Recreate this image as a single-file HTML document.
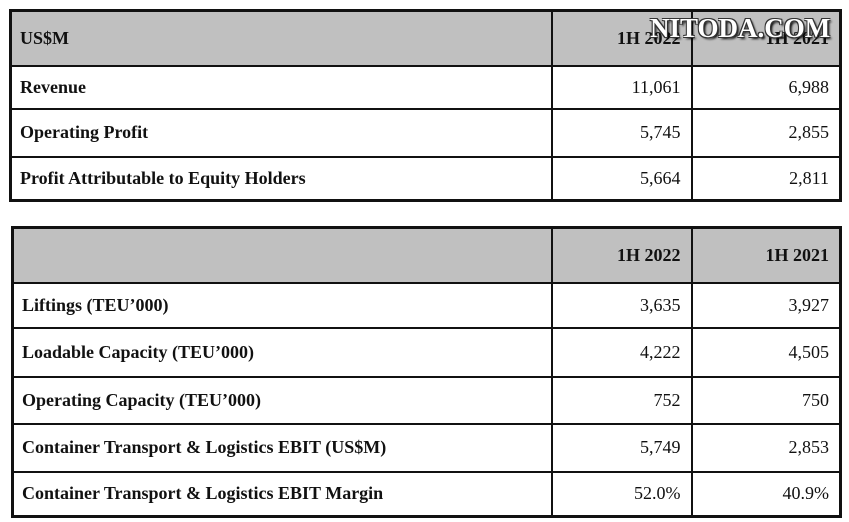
<!DOCTYPE html>
<html><head><meta charset="utf-8"><style>
body{margin:0;width:849px;height:522px;background:#fff;position:relative;overflow:hidden;font-family:"Liberation Serif",serif;}
table{position:absolute;border-collapse:collapse;border:3px solid #111;table-layout:fixed;}
td{border:2px solid #111;font-size:18px;color:#111;padding:0 10px 0 8px;}
td.l{font-weight:bold;}
td.n{text-align:right;}
tr.h td{background:#c0c0c0;font-weight:bold;}
#wm{position:absolute;left:650px;top:13px;font:bold 27px "Liberation Serif",serif;color:#fff;text-shadow:1px 1px 0 #333,-1px -1px 0 #333,1px -1px 0 #333,-1px 1px 0 #333,2px 2px 2px #000;}
</style></head><body>
<table style="left:9px;top:9px;width:830px;">
<colgroup><col style="width:541px"><col style="width:140px"><col style="width:149px"></colgroup>
<tr class="h" style="height:55px"><td class="l">US$M</td><td class="n">1H 2022</td><td class="n">1H 2021</td></tr>
<tr style="height:43px"><td class="l">Revenue</td><td class="n">11,061</td><td class="n">6,988</td></tr>
<tr style="height:48px"><td class="l">Operating Profit</td><td class="n">5,745</td><td class="n">2,855</td></tr>
<tr style="height:44px"><td class="l">Profit Attributable to Equity Holders</td><td class="n">5,664</td><td class="n">2,811</td></tr>
</table>
<table style="left:11px;top:226px;width:828px;">
<colgroup><col style="width:539px"><col style="width:140px"><col style="width:149px"></colgroup>
<tr class="h" style="height:55px"><td></td><td class="n">1H 2022</td><td class="n">1H 2021</td></tr>
<tr style="height:45px"><td class="l">Liftings (TEU’000)</td><td class="n">3,635</td><td class="n">3,927</td></tr>
<tr style="height:49px"><td class="l">Loadable Capacity (TEU’000)</td><td class="n">4,222</td><td class="n">4,505</td></tr>
<tr style="height:47px"><td class="l">Operating Capacity (TEU’000)</td><td class="n">752</td><td class="n">750</td></tr>
<tr style="height:48px"><td class="l">Container Transport &amp; Logistics EBIT (US$M)</td><td class="n">5,749</td><td class="n">2,853</td></tr>
<tr style="height:45px"><td class="l">Container Transport &amp; Logistics EBIT Margin</td><td class="n">52.0%</td><td class="n">40.9%</td></tr>
</table>
<div id="wm">NITODA.COM</div>
</body></html>
